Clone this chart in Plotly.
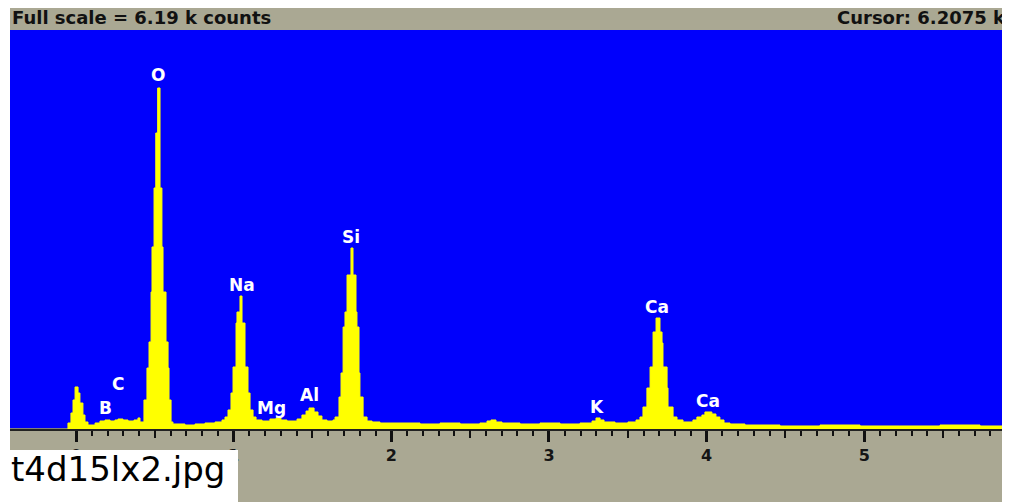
import plotly.graph_objects as go

# ---- data ----
# spectrum outline (step shape): energy in keV, counts
energy_kev = [-0.419, -0.051, -0.032, -0.019, -0.006, 0.013, 0.025, 0.044, 0.057, 0.076,
              0.121, 0.152, 0.184, 0.216, 0.247, 0.266, 0.298, 0.330, 0.368, 0.393,
              0.406, 0.431, 0.450, 0.463, 0.476, 0.482, 0.495, 0.506, 0.518, 0.533,
              0.545, 0.552, 0.571, 0.584, 0.590, 0.603, 0.615, 0.691, 0.755, 0.818,
              0.882, 0.926, 0.945, 0.964, 0.983, 0.996, 1.015, 1.021, 1.040, 1.053,
              1.072, 1.091, 1.104, 1.123, 1.142, 1.180, 1.230, 1.269, 1.300, 1.338,
              1.402, 1.433, 1.459, 1.478, 1.510, 1.535, 1.560, 1.592, 1.630, 1.643,
              1.668, 1.681, 1.694, 1.706, 1.719, 1.744, 1.757, 1.776, 1.782, 1.795,
              1.801, 1.821, 1.846, 1.878, 1.928, 2.055, 2.182, 2.309, 2.436, 2.562,
              2.607, 2.632, 2.664, 2.702, 2.816, 2.943, 3.070, 3.197, 3.273, 3.298,
              3.324, 3.349, 3.419, 3.501, 3.552, 3.577, 3.596, 3.621, 3.641, 3.660,
              3.679, 3.704, 3.717, 3.723, 3.749, 3.755, 3.787, 3.812, 3.850, 3.913,
              3.938, 3.970, 3.989, 4.033, 4.059, 4.084, 4.110, 4.148, 4.243, 4.465,
              4.719, 4.973, 5.226, 5.480, 5.734, 5.924]
counts = [0, 93, 248, 450, 652, 558, 403, 217, 109, 62,
          93, 124, 140, 124, 140, 155, 140, 124, 140, 171,
          109, 450, 946, 1350, 2125, 2824, 3739, 4592, 5290, 3739,
          2824, 2125, 1350, 946, 450, 109, 78, 62, 78, 93,
          109, 140, 186, 295, 558, 962, 1644, 1815, 2063, 1644,
          962, 558, 295, 186, 140, 124, 155, 171, 140, 124,
          155, 217, 279, 326, 264, 202, 140, 124, 140, 186,
          496, 869, 1582, 1815, 2389, 2808, 2389, 1815, 1582, 869,
          496, 186, 124, 109, 93, 93, 78, 93, 78, 93,
          124, 140, 109, 93, 78, 93, 78, 93, 124, 171,
          140, 109, 93, 109, 140, 186, 341, 636, 962, 1505,
          1722, 1505, 1334, 962, 636, 341, 186, 140, 109, 140,
          186, 217, 264, 233, 186, 140, 93, 78, 62, 47,
          62, 47, 47, 62, 47, 47]

# element labels and where they sit (keV, counts)
peak_labels = ["O", "C", "B", "Na", "Mg", "Al", "Si", "K", "Ca", "Ca"]
label_energy = [0.520, 0.266, 0.184, 1.053, 1.243, 1.484, 1.744, 3.305, 3.685, 4.009]
label_counts = [5491, 698, 326, 2233, 326, 527, 2978, 341, 1892, 434]

# axis ticks (keV)
major_ticks = [0, 1, 2, 3, 4, 5]
half_ticks = [0.5, 1.5, 2.5, 3.5, 4.5, 5.5]
minor_ticks = [k / 10 for k in range(0, 60) if k % 5 != 0]

full_scale = 6190
x_range = [-0.4186, 5.924]

header_left = "Full scale = 6.19 k counts"
header_right = "Cursor: 6.2075 keV"
caption = "t4d15lx2.jpg"

GRAY = "#aaa893"
BLUE = "#0000fc"
YELLOW = "#ffff00"

fig = go.Figure()
fig.add_trace(go.Scatter(
    x=energy_kev, y=counts, mode="lines",
    line=dict(color=YELLOW, width=1, shape="hv"),
    fill="tozeroy", fillcolor=YELLOW, showlegend=False, hoverinfo="skip"))
# empty trace to carry the half-tick axis
fig.add_trace(go.Scatter(x=[None], y=[None], xaxis="x2", showlegend=False,
                         hoverinfo="skip"))

for lab, ex, cy in zip(peak_labels, label_energy, label_counts):
    fig.add_annotation(x=ex, y=cy, xref="x", yref="y", text="<b>" + lab + "</b>",
                       showarrow=False,
                       font=dict(family="DejaVu Sans", size=17, color="white"),
                       xanchor="center", yanchor="middle")

hdr_font = dict(family="DejaVu Sans", size=18, color="#111111")
fig.add_annotation(x=0, y=1.032, xref="paper", yref="paper", text="<b>" + header_left + "</b>",
                   showarrow=False, xanchor="left", yanchor="middle", font=hdr_font)
fig.add_annotation(x=0.825, y=1.032, xref="paper", yref="paper", text="<b>" + header_right + "</b>",
                   showarrow=False, xanchor="left", yanchor="middle", font=hdr_font)
fig.add_annotation(x=-0.0015, y=-0.1, xref="paper", yref="paper", text=caption,
                   showarrow=False, xanchor="left", yanchor="middle",
                   font=dict(family="DejaVu Sans", size=34, color="#000000"))

# white strip and caption box
fig.add_shape(type="rect", xref="paper", yref="paper", x0=-0.011, x1=0.0, y0=-0.2, y1=1.08,
              fillcolor="white", line=dict(width=0), layer="above")
fig.add_shape(type="rect", xref="paper", yref="paper", x0=-0.011, x1=0.228, y0=-0.2, y1=-0.0526,
              fillcolor="white", line=dict(width=0), layer="above")

tick_font = dict(family="DejaVu Sans", size=16, color="#151515")
# the page body adds an 8 px offset, so the figure is 8 px smaller each way
fig.update_layout(
    width=1002, height=494,
    margin=dict(l=2, r=0, t=22, b=73, pad=0),
    paper_bgcolor=GRAY, plot_bgcolor=BLUE,
    xaxis=dict(range=x_range, showgrid=False, zeroline=False,
               tickmode="array", tickvals=major_ticks,
               ticktext=["<b>%d</b>" % t for t in major_ticks],
               ticks="outside", ticklen=11, tickwidth=3, tickcolor="#111111",
               showline=True, linecolor="#222222", linewidth=2,
               tickfont=tick_font,
               minor=dict(tickmode="array", tickvals=minor_ticks, ticks="outside",
                          ticklen=5, tickwidth=2, tickcolor="#111111")),
    xaxis2=dict(range=x_range, overlaying="x", side="bottom", showgrid=False,
                zeroline=False, tickmode="array", tickvals=half_ticks,
                ticks="outside", ticklen=8, tickwidth=2, tickcolor="#111111",
                showticklabels=False, showline=False),
    yaxis=dict(range=[0, full_scale], visible=False, showgrid=False, zeroline=False),
)

fig.write_html("out.html")
